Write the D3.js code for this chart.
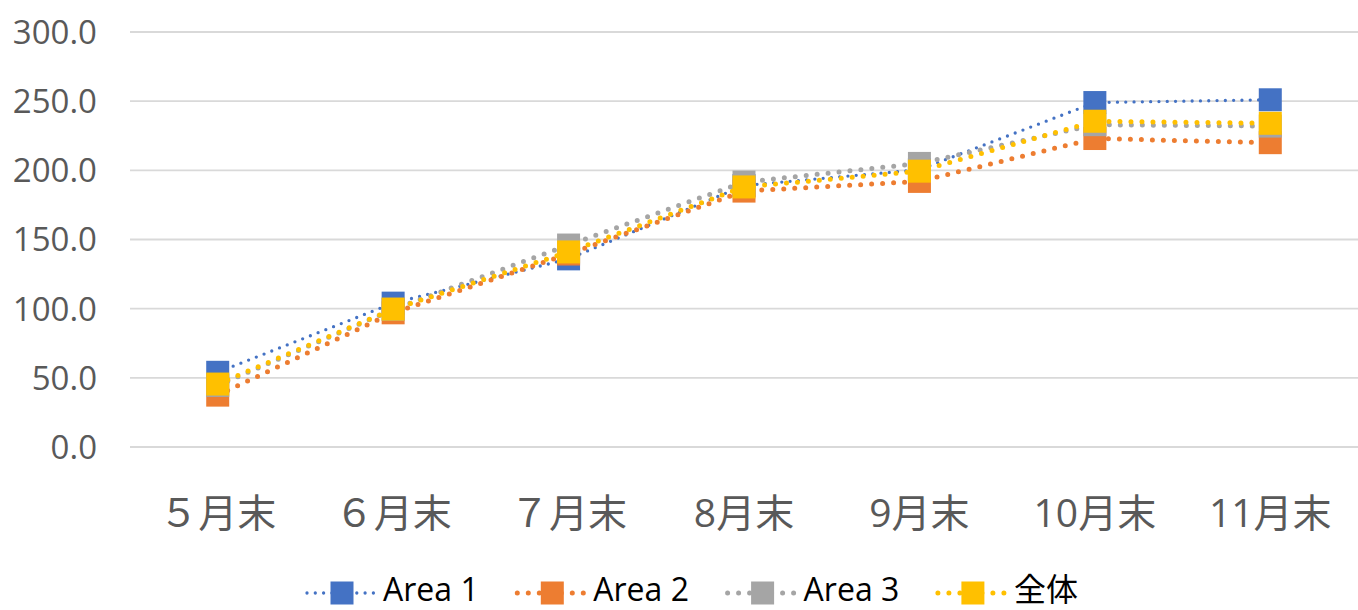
<!DOCTYPE html>
<html>
<head>
<meta charset="utf-8">
<script src="https://cdn.jsdelivr.net/npm/d3@7"></script>
<style>
  body { margin: 0; background: #fff; }
  svg text { font-family: "Open Sans", "Noto Sans CJK JP", sans-serif; }
</style>
</head>
<body>
<div id="chart"></div>
<script>
// data
const months = ["５月末", "６月末", "７月末", "8月末", "9月末", "10月末", "11月末"];
const area1 = [54, 104, 136, 189, 200.5, 249, 251];
const area2 = [37.5, 97, 139.5, 185, 192, 223, 220];
const area3 = [44.5, 99.5, 146, 191.5, 205, 233, 232];
const total = [45.5, 99.7, 141, 188, 199.4, 235.5, 234];
const yTicks = [0, 50, 100, 150, 200, 250, 300];

const seriesNames = ["Area 1", "Area 2", "Area 3", "全体"];
const seriesColors = ["#4472C4", "#ED7D31", "#A5A5A5", "#FFC000"];
const seriesValues = [area1, area2, area3, total];

const width = 1358;
const height = 610;

const svg = d3.select("#chart")
    .append("svg")
    .attr("width", width)
    .attr("height", height);

const x = d3.scaleBand()
    .domain(months)
    .range([130, 1358]);

const y = d3.scaleLinear()
    .domain([0, 300])
    .range([447, 32]);

// gridlines
svg.append("g")
    .selectAll("line")
    .data(yTicks)
    .enter()
    .append("line")
    .attr("x1", 130)
    .attr("x2", 1358)
    .attr("y1", d => y(d))
    .attr("y2", d => y(d))
    .style("stroke", "#d9d9d9")
    .style("stroke-width", 1.8);

// y axis labels
svg.append("g")
    .selectAll("text")
    .data(yTicks)
    .enter()
    .append("text")
    .attr("x", 97)
    .attr("y", d => y(d))
    .attr("dy", "0.36em")
    .style("text-anchor", "end")
    .style("font-size", "33px")
    .style("fill", "#595959")
    .text(d => d.toFixed(1));

// x axis labels
svg.append("g")
    .selectAll("text")
    .data(months)
    .enter()
    .append("text")
    .attr("x", d => x(d) + x.bandwidth() / 2)
    .attr("y", 527)
    .style("text-anchor", "middle")
    .style("font-size", "39px")
    .style("fill", "#595959")
    .text(d => d);

const line = d3.line()
    .x((d, i) => x(months[i]) + x.bandwidth() / 2)
    .y(d => y(d));

const dotWidth = [3.3, 5, 5, 5];
const dotGap = ["0 8.3", "0 11", "0 11", "0 11"];
const markerSize = 23;

// series: line then markers, in order
seriesValues.forEach((vals, s) => {
    const g = svg.append("g");
    g.append("path")
        .datum(vals)
        .attr("d", line)
        .style("fill", "none")
        .style("stroke", seriesColors[s])
        .style("stroke-width", dotWidth[s])
        .style("stroke-linecap", "round")
        .style("stroke-dasharray", dotGap[s]);

    g.selectAll("rect")
        .data(vals)
        .enter()
        .append("rect")
        .attr("x", (d, i) => x(months[i]) + x.bandwidth() / 2 - markerSize / 2)
        .attr("y", d => y(d) - markerSize / 2)
        .attr("width", markerSize)
        .attr("height", markerSize)
        .style("fill", seriesColors[s]);
});

// legend
const legend = svg.append("g");
const legendY = 593;
seriesNames.forEach((name, s) => {
    const x0 = 307 + s * 210.3;
    legend.append("line")
        .attr("x1", x0)
        .attr("x2", x0 + 70)
        .attr("y1", legendY)
        .attr("y2", legendY)
        .style("stroke", seriesColors[s])
        .style("stroke-width", dotWidth[s])
        .style("stroke-linecap", "round")
        .style("stroke-dasharray", dotGap[s]);
    legend.append("rect")
        .attr("x", x0 + 35 - markerSize / 2)
        .attr("y", legendY - markerSize / 2)
        .attr("width", markerSize)
        .attr("height", markerSize)
        .style("fill", seriesColors[s]);
    legend.append("text")
        .attr("x", x0 + 76)
        .attr("y", 601)
        .style("font-size", "32px")
        .style("fill", "#000")
        .text(name);
});
</script>
</body>
</html>
